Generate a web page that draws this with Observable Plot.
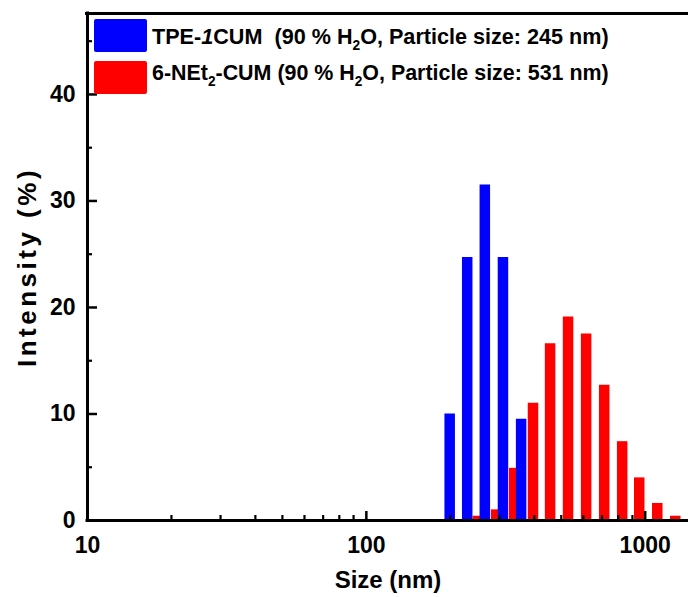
<!DOCTYPE html>
<html><head><meta charset="utf-8">
<script src="https://cdn.jsdelivr.net/npm/d3@7"></script>
<script src="https://cdn.jsdelivr.net/npm/@observablehq/plot@0.6"></script>
<style>
html,body{margin:0;padding:0;background:#fff;overflow:hidden}
#chart{width:688px;height:597px}
</style>
</head><body><div id="chart"></div>
<script>
// ---- data ----
const blueSizes = [199, 230, 266, 309, 359];              // nm
const blueIntensity = [10.0, 24.7, 31.5, 24.7, 9.5];       // %
const redSizes = [251, 292, 339, 396, 456, 529, 614, 713, 827, 952, 1105, 1282];
const redIntensity = [0.4, 1.0, 4.9, 11.0, 16.6, 19.1, 17.5, 12.7, 7.4, 4.0, 1.6, 0.4];

const xDomain = [10, 1430];
const yDomain = [0, 47.6];
const xMajorTicks = [10, 100, 1000];
const xMinorTicks = [20, 30, 40, 50, 60, 70, 80, 90, 200, 300, 400, 500, 600, 700, 800, 900];
const yMajorTicks = [0, 10, 20, 30, 40];
const yMinorTicks = [5, 15, 25, 35, 45];

const xTitle = "Size (nm)";
const yTitle = "Intensity (%)";
const seriesColors = ["#0000ff", "#ff0000"];
// legend labels as [text, style] parts
const seriesLabels = [
  [["TPE-", ""], ["1", "italic"], ["CUM  (90 % H", ""], ["2", "sub"], ["O, Particle size: 245 nm)", ""]],
  [["6-NEt", ""], ["2", "sub"], ["-CUM (90 % H", ""], ["2", "sub"], ["O, Particle size: 531 nm)", ""]]
];

const FONT = "'Liberation Sans', Arial, Helvetica, sans-serif";
const blue = blueSizes.map((s, i) => ({size: s, value: blueIntensity[i]}));
const red = redSizes.map((s, i) => ({size: s, value: redIntensity[i]}));

const W = 688, H = 597, ML = 87, MR = 0, MT = 13, MB = 77;
const FW = W - ML - MR, FH = H - MT - MB;

const plot = Plot.plot({
  width: W, height: H,
  marginLeft: ML, marginRight: MR, marginTop: MT, marginBottom: MB,
  style: {fontFamily: FONT, background: "white", color: "black"},
  x: {type: "log", domain: xDomain, axis: null},
  y: {domain: yDomain, axis: null},
  marks: [
    Plot.ruleX(red, {x: "size", y: "value", stroke: seriesColors[1], strokeWidth: 10.5}),
    Plot.ruleX(blue, {x: "size", y: "value", stroke: seriesColors[0], strokeWidth: 10.5}),
    Plot.gridX(xMinorTicks, {stroke: "black", strokeOpacity: 1, strokeWidth: 2.2, insetTop: FH - 5}),
    Plot.gridX(xMajorTicks, {stroke: "black", strokeOpacity: 1, strokeWidth: 2.5, insetTop: FH - 9}),
    Plot.gridY(yMinorTicks, {stroke: "black", strokeOpacity: 1, strokeWidth: 2.2, insetRight: FW - 5}),
    Plot.gridY(yMajorTicks, {stroke: "black", strokeOpacity: 1, strokeWidth: 2.5, insetRight: FW - 10}),
    Plot.ruleY([yDomain[1]], {stroke: "black", strokeWidth: 3, insetLeft: -2}),
    Plot.ruleY([0], {stroke: "black", strokeWidth: 3.2, insetLeft: -1.5}),
    Plot.ruleX([xDomain[0]], {stroke: "black", strokeWidth: 3, insetBottom: -1.5, insetTop: -1.5}),
    Plot.axisX(xMajorTicks, {tickSize: 0, tickPadding: 16, tickFormat: d => String(d), fontSize: 23, fontWeight: "bold", label: null}),
    Plot.axisY(yMajorTicks, {tickSize: 0, tickPadding: 12, tickFormat: d => String(d), fontSize: 23, fontWeight: "bold", label: null}),
    Plot.text([xTitle], {frameAnchor: "bottom", dy: 67, fontSize: 24, fontWeight: "bold", fill: "black"}),
    Plot.text([yTitle], {frameAnchor: "left", textAnchor: "middle", rotate: -90, dx: -60, fontSize: 26, fontWeight: "bold", fill: "black"})
  ]
});
document.getElementById("chart").appendChild(plot);

const svg = d3.select(plot);
// the reference's y title is spread out along its length
svg.selectAll("text").filter(function() { return this.textContent === yTitle; })
  .style("letter-spacing", "3.5px");

// legend inside the plot area (top-left)
const leg = svg.append("g").attr("font-family", FONT).attr("font-weight", "bold")
  .attr("font-size", 22).attr("fill", "black").attr("text-anchor", "start");
const rows = [{y0: 19, y1: 52, base: 43.5}, {y0: 61, y1: 94, base: 80}];
seriesLabels.forEach((parts, i) => {
  const r = rows[i];
  leg.append("rect").attr("x", 94).attr("y", r.y0).attr("width", 53).attr("height", r.y1 - r.y0)
    .attr("rx", 2).attr("fill", seriesColors[i]);
  const t = leg.append("text").attr("x", 0).attr("y", 0).attr("text-anchor", "start").style("white-space", "pre");
  let prevSub = false;
  parts.forEach(([txt, st]) => {
    const ts = t.append("tspan").text(txt);
    if (st === "italic") ts.attr("font-style", "italic");
    if (st === "sub") { ts.attr("font-size", 14).attr("dy", 6); prevSub = true; }
    else { if (prevSub) ts.attr("dy", -6); prevSub = false; }
  });
  const len = t.node().getComputedTextLength();
  const target = 457;
  const sx = len > 0 ? target / len : 1;
  t.attr("transform", `translate(152,${r.base}) scale(${sx},1)`);
});
</script>
</body></html>
